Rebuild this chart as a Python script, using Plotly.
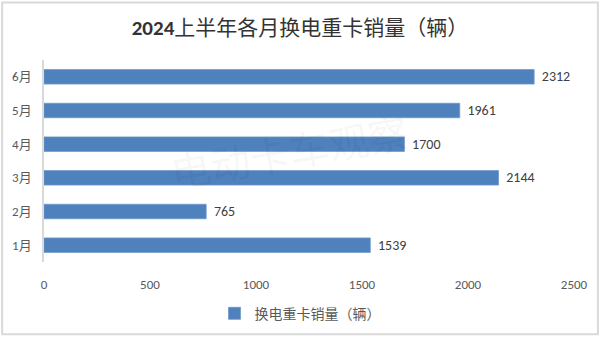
import plotly.graph_objects as go

# Monthly sales of battery-swap heavy trucks, H1 2024
months = ["1月", "2月", "3月", "4月", "5月", "6月"]
sales = [1539, 765, 2144, 1700, 1961, 2312]
x_ticks = [0, 500, 1000, 1500, 2000, 2500]
series_name = "换电重卡销量（辆）"
title_text = "<b>2024</b>上半年各月换电重卡销量（辆）"
watermark = "电动卡车观察"

CJK = "Calibri, Carlito, 'Noto Sans CJK SC', sans-serif"

fig = go.Figure()
fig.add_trace(go.Bar(
    y=months,
    x=sales,
    orientation="h",
    name=series_name,
    marker=dict(color="#4F81BD", line=dict(color="#6f98cc", width=0.8)),
    texttemplate="\u2004%{x}",
    textposition="outside",
    constraintext="none",
    cliponaxis=False,
    textfont=dict(size=14, color="#404040", family=CJK),
    showlegend=True,
))

W, H = 600, 342
ml, mr, mt, mb = 43, 25, 60, 75
pw, ph = W - ml - mr, H - mt - mb

fig.update_layout(
    width=W, height=H,
    margin=dict(l=ml, r=mr, t=mt, b=mb),
    paper_bgcolor="white",
    plot_bgcolor="white",
    bargap=0.57,
    title=dict(
        text=title_text,
        x=0.5, xanchor="center",
        y=1 - 28 / H, yanchor="middle",
        font=dict(size=21, color="#333333", family="Carlito, 'Noto Sans CJK SC', sans-serif"),
    ),
    xaxis=dict(
        range=[0, 2500],
        tickvals=x_ticks,
        ticktext=[str(t) for t in x_ticks],
        showgrid=False,
        zeroline=False,
        showline=False,
        ticks="",
        tickfont=dict(size=13, color="#595959", family=CJK),
        ticklabelstandoff=13,
    ),
    yaxis=dict(
        showgrid=False,
        zeroline=False,
        showline=True,
        linecolor="#d9d9d9",
        linewidth=1.5,
        ticks="",
        ticklabelstandoff=8,
        tickfont=dict(size=13, color="#595959", family=CJK),
    ),
    legend=dict(
        orientation="h",
        x=0.5 - (ml - mr) / 2 / pw, xanchor="center",
        y=-(320 - mt - ph) / ph, yanchor="middle",
        font=dict(size=14, color="#595959", family=CJK),
        itemwidth=30,
    ),
    showlegend=True,
)

# Faint diagonal watermark across the plot
fig.add_annotation(
    text=watermark,
    xref="paper", yref="paper",
    x=(289 - ml) / pw, y=1 - (153 - mt) / ph,
    showarrow=False,
    textangle=-10,
    font=dict(size=40, color="rgba(0,0,0,0.05)", family="'Noto Sans CJK SC', sans-serif"),
)

# Thin frame around the whole chart
fig.add_shape(
    type="rect", xref="paper", yref="paper",
    x0=-(ml - 1) / pw, x1=1 + (mr - 1) / pw,
    y0=-(mb - 1) / ph, y1=1 + (mt - 1) / ph,
    line=dict(color="#d9d9d9", width=2),
    fillcolor="rgba(0,0,0,0)",
    layer="below",
)

fig.write_html("out.html")
